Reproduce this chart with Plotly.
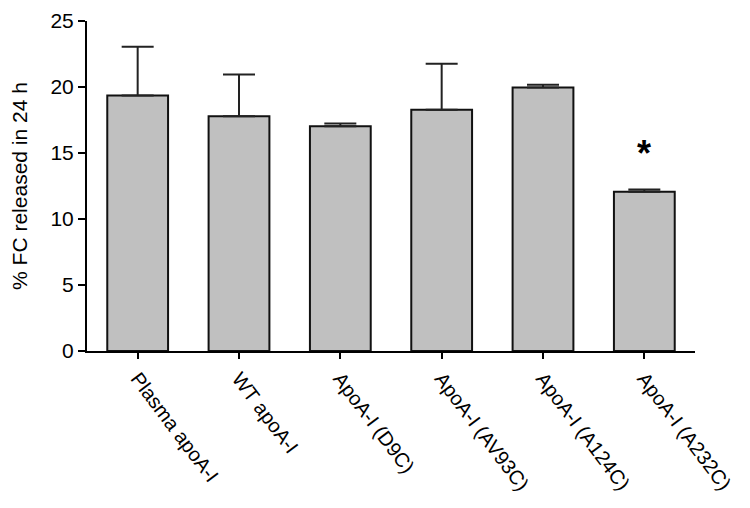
import plotly.graph_objects as go

categories = ["Plasma apoA-I", "WT apoA-I", "ApoA-I (D9C)", "ApoA-I (AV93C)", "ApoA-I (A124C)", "ApoA-I (A232C)"]
means = [19.35, 17.78, 17.03, 18.28, 19.97, 12.06]
sd_upper = [3.7, 3.16, 0.2, 3.49, 0.2, 0.17]
y_ticks = [0, 5, 10, 15, 20, 25]
star_label = "<b>*</b>"
star_category = 5
star_y = 15.0

fig = go.Figure()
fig.add_trace(go.Bar(
    x=list(range(len(categories))),
    y=means,
    width=0.6,
    marker=dict(color="#c0c0c0", line=dict(color="#111111", width=2)),
    error_y=dict(type="data", symmetric=False, array=sd_upper,
                 arrayminus=[0] * len(means), color="#222222",
                 thickness=2, width=16),
    showlegend=False,
))

fig.add_annotation(x=star_category, y=star_y, text=star_label, showarrow=False,
                   font=dict(family="Liberation Sans, Arial", size=36, color="black"),
                   yanchor="middle", yshift=0)

fig.update_layout(
    width=750, height=508,
    margin=dict(l=79, r=63, t=13, b=165),
    plot_bgcolor="white", paper_bgcolor="white",
    font=dict(family="Liberation Sans, Arial", size=21, color="black"),
    bargap=0.4,
)
fig.update_xaxes(
    range=[-0.5, 5.5], automargin=False,
    tickmode="array", tickvals=list(range(len(categories))), ticktext=categories,
    tickangle=53,
    showline=True, linecolor="black", linewidth=2,
    ticks="outside", ticklen=6, tickwidth=2, tickcolor="black",
    showgrid=False, zeroline=False,
    tickfont=dict(family="Liberation Sans, Arial", size=20, color="black"),
)
fig.update_yaxes(
    range=[0, 25], automargin=False,
    tickmode="array", tickvals=y_ticks,
    ticklabeloverflow="allow",
    showline=True, linecolor="black", linewidth=2,
    ticks="outside", ticklen=7, tickwidth=2, tickcolor="black",
    showgrid=False, zeroline=False,
    title=dict(text="% FC released in 24 h", standoff=25,
               font=dict(family="Liberation Sans, Arial", size=21, color="black")),
    tickfont=dict(family="Liberation Sans, Arial", size=21, color="black"),
)

fig.write_html("out.html")
